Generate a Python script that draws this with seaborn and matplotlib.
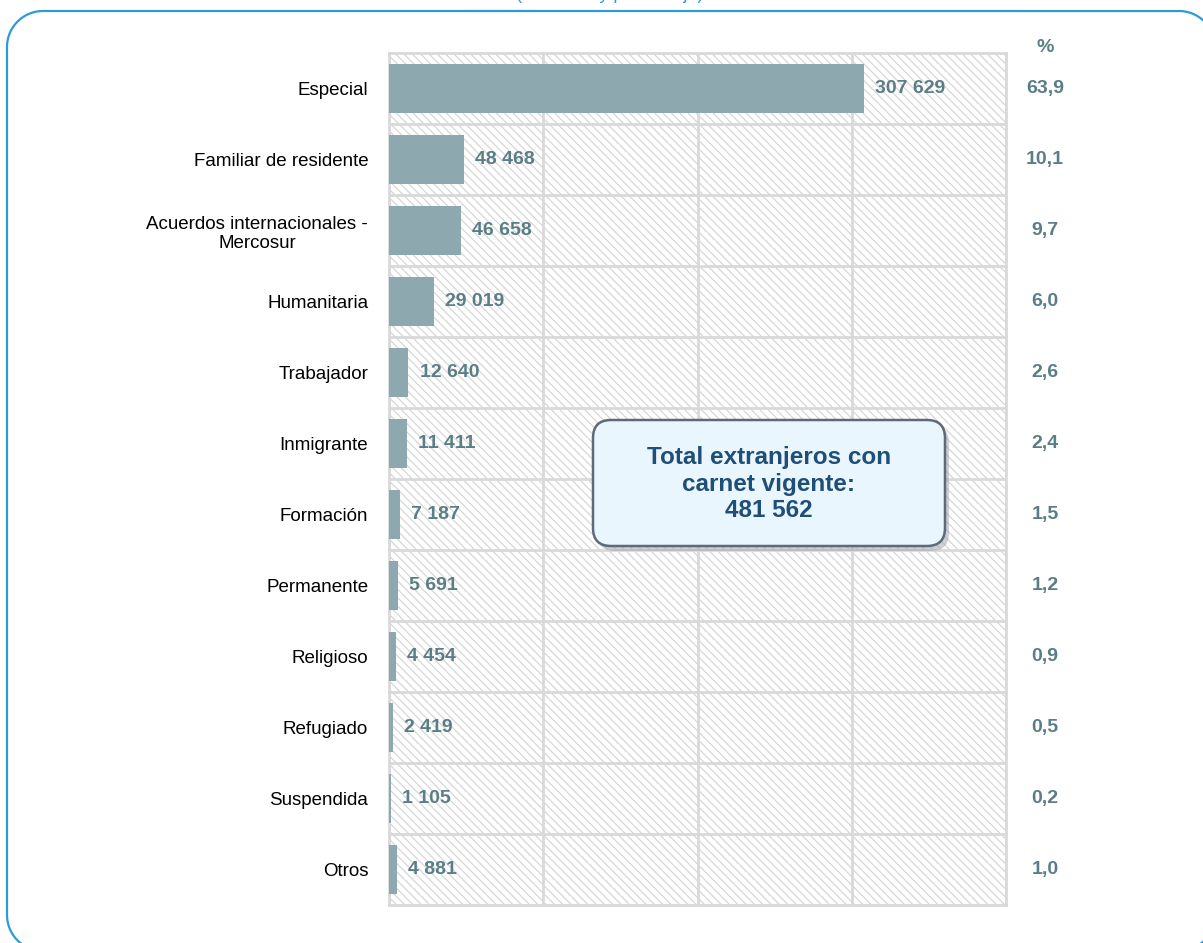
import matplotlib
matplotlib.use("Agg")
import matplotlib.pyplot as plt
import seaborn as sns
import pandas as pd
import numpy as np
from matplotlib.patches import Rectangle, FancyBboxPatch
from matplotlib import font_manager

categories = ["Especial", "Familiar de residente", "Acuerdos internacionales -\nMercosur",
              "Humanitaria", "Trabajador", "Inmigrante", "Formación", "Permanente",
              "Religioso", "Refugiado", "Suspendida", "Otros"]
values = [307629, 48468, 46658, 29019, 12640, 11411, 7187, 5691, 4454, 2419, 1105, 4881]
percents = ["63,9", "10,1", "9,7", "6,0", "2,6", "2,4", "1,5", "1,2", "0,9", "0,5", "0,2", "1,0"]
x_ticks = [0, 100000, 200000, 300000, 400000]
total_text = "Total extranjeros con\ncarnet vigente:\n481 562"
title_text = "(Cantidad y porcentaje)"

sns.set_theme(style="white")

def pick(names):
    for n in names:
        try:
            font_manager.findfont(font_manager.FontProperties(family=n), fallback_to_default=False)
            return n
        except Exception:
            pass
    return "DejaVu Sans"

narrow = pick(["Liberation Sans Narrow", "Liberation Sans"])
regular = pick(["Liberation Sans", "DejaVu Sans"])
plt.rcParams["font.family"] = [regular, "DejaVu Sans"]
plt.rcParams["hatch.linewidth"] = 0.8

W, H = 1203, 943
fig = plt.figure(figsize=(W / 100, H / 100), dpi=100)
ax = fig.add_axes([389 / W, 1 - 905 / H, (1006 - 389) / W, (905 - 53) / H])

df = pd.DataFrame({"cat": categories, "val": values})
sns.barplot(data=df, x="val", y="cat", orient="h", color="#8DA9AF", saturation=1,
            width=0.7, ax=ax, zorder=2, linewidth=0, edgecolor="none")

ax.set_facecolor("white")
ax.add_patch(Rectangle((0, 0), 1, 1, transform=ax.transAxes, facecolor="white",
                       edgecolor="#D3D3D3", hatch="\\\\\\\\", lw=0, zorder=0.1))
ax.set_xlim(0, 400000)
ax.set_ylim(len(categories) - 0.5, -0.5)
ax.set_xticks(x_ticks)
ax.set_xticklabels([])
ax.set_yticks(range(len(categories)))
ax.set_yticks([i + 0.5 for i in range(len(categories) - 1)], minor=True)
ax.grid(True, axis="x", which="major", color="#D9D9D9", lw=2, zorder=0.5)
ax.grid(True, axis="y", which="minor", color="#D9D9D9", lw=2, zorder=0.5)
ax.grid(False, axis="y", which="major")
ax.set_axisbelow(True)
for s in ax.spines.values():
    s.set_visible(True)
    s.set_color("#D9D9D9")
    s.set_linewidth(2)
    s.set_zorder(0.6)
ax.tick_params(axis="both", which="both", length=0)
ax.tick_params(axis="y", pad=15)
ax.set_xlabel("")
ax.set_ylabel("")
for lab in ax.get_yticklabels():
    lab.set_fontsize(13.5)
    lab.set_color("black")
    lab.set_multialignment("center")

val_color = "#5A7E86"
for i, v in enumerate(values):
    ax.annotate(f"{v:,}".replace(",", " "), xy=(v, i), xytext=(8, 0),
                textcoords="offset points", va="center", ha="left",
                fontsize=14, fontweight="bold", color=val_color, family=narrow)

ytr = ax.get_yaxis_transform()
px = (1045 - 389) / (1006 - 389)
for i, p in enumerate(percents):
    ax.text(px, i, p, transform=ytr, ha="center", va="center", fontsize=14,
            fontweight="bold", color=val_color, family=narrow)
ax.text(px, 1 + 1 / 852, "%", transform=ax.transAxes, ha="center", va="baseline",
        fontsize=14, fontweight="bold", color=val_color, family=narrow)

# overlay in pixel coordinates for frame, title and total box
ov = fig.add_axes([0, 0, 1, 1], facecolor="none")
ov.set_xlim(0, W)
ov.set_ylim(H, 0)
ov.axis("off")

# rounded outer frame, drawn as a polyline (partly outside the canvas)
x0, y0, x1, y1, r = 7, 11, 1215, 951, 36
def arc(cx, cy, a0, a1):
    t = np.linspace(np.radians(a0), np.radians(a1), 40)
    return cx + r * np.cos(t), cy + r * np.sin(t)
segs = [arc(x0 + r, y0 + r, 180, 270), arc(x1 - r, y0 + r, 270, 360),
        arc(x1 - r, y1 - r, 0, 90), arc(x0 + r, y1 - r, 90, 180)]
fx = np.concatenate([s[0] for s in segs] + [segs[0][0][:1]])
fy = np.concatenate([s[1] for s in segs] + [segs[0][1][:1]])
ov.plot(fx, fy, color="#2E9AD6", lw=1.6, solid_capstyle="round")

ov.text(610, -1, title_text, ha="center", va="baseline", fontsize=13,
        color="#2E9AD6", family=narrow, clip_on=False)
ov.add_patch(FancyBboxPatch((597, 425), 352, 126, boxstyle="round,pad=0,rounding_size=18",
                            facecolor="#9AA3AD", edgecolor="none", alpha=0.5))
ov.add_patch(FancyBboxPatch((593, 420), 352, 126, boxstyle="round,pad=0,rounding_size=18",
                            facecolor="#EAF6FD", edgecolor="#5E6A78", lw=1.8))
ov.text(769, 484, total_text, ha="center", va="center", fontsize=17.5, fontweight="bold",
        color="#1F4E79", family=narrow, linespacing=1.2)

fig.savefig("out.png", dpi=100)
